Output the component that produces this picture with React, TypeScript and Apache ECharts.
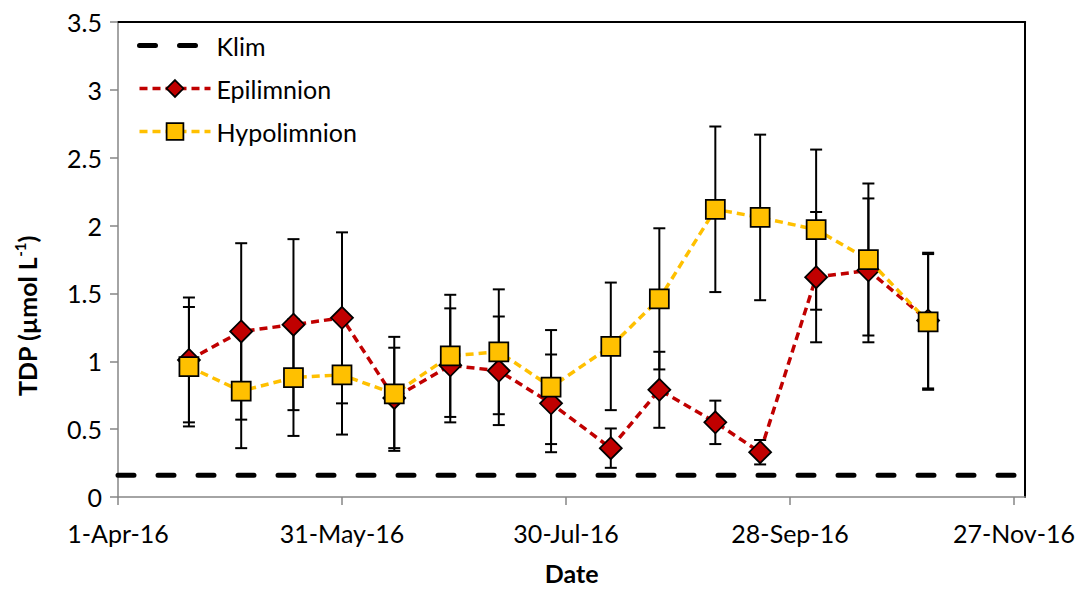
import React, { useEffect, useRef } from "react";
import * as echarts from "echarts";

// Sampling dates (2016) and TDP concentrations, µmol L-1
const sampleDates = [
  "2016-04-20", "2016-05-04", "2016-05-18", "2016-05-31", "2016-06-14",
  "2016-06-29", "2016-07-12", "2016-07-26", "2016-08-11", "2016-08-24",
  "2016-09-08", "2016-09-20", "2016-10-05", "2016-10-19", "2016-11-04",
];
const epilimnion = [1.01, 1.22, 1.27, 1.32, 0.73, 0.97, 0.93, 0.69, 0.36, 0.79, 0.55, 0.33, 1.62, 1.67, 1.30];
const epilimnionErr = [0.46, 0.65, 0.63, 0.63, 0.37, 0.42, 0.40, 0.36, 0.145, 0.28, 0.16, 0.09, 0.48, 0.53, 0.50];
const hypolimnion = [0.96, 0.78, 0.88, 0.90, 0.76, 1.04, 1.07, 0.81, 1.11, 1.46, 2.12, 2.06, 1.97, 1.75, 1.29];
const hypolimnionErr = [0.44, 0.42, 0.43, 0.44, 0.42, 0.45, 0.46, 0.42, 0.47, 0.52, 0.61, 0.61, 0.59, 0.56, 0.50];
const klim = 0.16;

// Date axis: days counted from 1-Apr-16, ticks every 60 days
const axisStart = "2016-04-01";
const axisEnd = "2016-11-30";
const tickDays = [0, 60, 120, 180, 240];
const yTicks = { min: 0, max: 3.5, interval: 0.5 };

const MONTHS = ["Jan", "Feb", "Mar", "Apr", "May", "Jun", "Jul", "Aug", "Sep", "Oct", "Nov", "Dec"];
const DAY_MS = 86400000;
const toUtc = (s: string) => {
  const [y, m, d] = s.split("-").map(Number);
  return Date.UTC(y, m - 1, d);
};
const startMs = toUtc(axisStart);
const dayOf = (s: string) => Math.round((toUtc(s) - startMs) / DAY_MS);
const fmtDay = (v: number) => {
  const d = new Date(startMs + v * DAY_MS);
  return `${d.getUTCDate()}-${MONTHS[d.getUTCMonth()]}-${String(d.getUTCFullYear()).slice(2)}`;
};

const FONT = "Lato, 'Open Sans', sans-serif";
const RED = "#C00000";
const GOLD = "#FFC000";
const AXIS_GRAY = "#868686";

export default function App() {
  const ref = useRef<HTMLDivElement>(null);

  useEffect(() => {
    if (!ref.current) return;
    const chart = echarts.init(ref.current, undefined, { renderer: "svg" });
    const maxDay = dayOf(axisEnd);
    const xs = sampleDates.map(dayOf);

    const epiData = xs.map((x, i) => [x, epilimnion[i]]);
    const hypoData = xs.map((x, i) => [x, hypolimnion[i]]);
    const epiBars = xs.map((x, i) => [x, epilimnion[i] - epilimnionErr[i], epilimnion[i] + epilimnionErr[i]]);
    const hypoBars = xs.map((x, i) => [x, hypolimnion[i] - hypolimnionErr[i], hypolimnion[i] + hypolimnionErr[i]]);

    const errorBarItem = (params: any, api: any) => {
      const x = api.value(0);
      const lo = api.coord([x, api.value(1)]);
      const hi = api.coord([x, api.value(2)]);
      const hw = 6;
      const style = { stroke: "#000", lineWidth: 2 };
      return {
        type: "group",
        children: [
          { type: "line", shape: { x1: lo[0], y1: lo[1], x2: hi[0], y2: hi[1] }, style },
          { type: "line", shape: { x1: lo[0] - hw, y1: lo[1], x2: lo[0] + hw, y2: lo[1] }, style },
          { type: "line", shape: { x1: hi[0] - hw, y1: hi[1], x2: hi[0] + hw, y2: hi[1] }, style },
        ],
      };
    };

    chart.setOption({
      animation: false,
      backgroundColor: "#fff",
      textStyle: { fontFamily: FONT },
      grid: { left: 118, right: 48, top: 22, bottom: 87 },
      graphic: [
        {
          type: "text",
          x: 27,
          y: 316,
          rotation: Math.PI / 2,
          style: {
            text: "{b|TDP (µmol L}{s|-1}{b|)}",
            align: "center",
            verticalAlign: "middle",
            rich: {
              b: { fontSize: 25, fontWeight: "bold", fill: "#000", fontFamily: FONT, lineHeight: 30 },
              s: { fontSize: 15, fontWeight: "bold", fill: "#000", fontFamily: FONT, verticalAlign: "top", lineHeight: 30, padding: [0, 0, 10, 0] },
            },
          },
        },
      ],
      legend: {
        data: [
          { name: "Klim", itemStyle: { color: "transparent", borderColor: "transparent", borderWidth: 0, opacity: 0 } },
          { name: "Epilimnion" },
          { name: "Hypolimnion" },
        ],
        orient: "vertical",
        left: 137,
        top: 33,
        padding: 0,
        itemWidth: 71,
        itemHeight: 21,
        itemGap: 18,
        lineStyle: { width: "inherit" },
        itemStyle: { borderWidth: "inherit" },
        textStyle: { fontSize: 25, fontFamily: FONT, color: "#000", padding: [0, 0, 0, 1] },
      },
      xAxis: [
        {
          type: "value",
          min: 0,
          max: maxDay,
          interval: 60,
          name: "Date",
          nameLocation: "middle",
          nameGap: 63,
          nameTextStyle: { fontSize: 25, fontWeight: "bold", color: "#000", fontFamily: FONT },
          axisLine: { show: true, onZero: false, lineStyle: { color: AXIS_GRAY, width: 1.5 } },
          axisTick: { show: true, length: 8, lineStyle: { color: AXIS_GRAY, width: 1.5 }, customValues: tickDays },
          axisLabel: {
            fontSize: 25,
            color: "#000",
            margin: 23,
            customValues: tickDays,
            formatter: (v: number) => fmtDay(v),
          },
          splitLine: { show: false },
        },
        {
          type: "value",
          position: "top",
          min: 0,
          max: maxDay,
          interval: 60,
          axisLine: { show: true, onZero: false, lineStyle: { color: "#000", width: 2 } },
          axisTick: { show: false },
          axisLabel: { show: false },
          splitLine: { show: false },
        },
      ],
      yAxis: [
        {
          type: "value",
          min: yTicks.min,
          max: yTicks.max,
          interval: yTicks.interval,
          axisLine: { show: true, onZero: false, lineStyle: { color: AXIS_GRAY, width: 1.5 } },
          axisTick: { show: true, length: 8, lineStyle: { color: AXIS_GRAY, width: 1.5 } },
          axisLabel: { fontSize: 25, color: "#000", margin: 16 },
          splitLine: { show: false },
        },
        {
          type: "value",
          position: "right",
          min: yTicks.min,
          max: yTicks.max,
          interval: yTicks.interval,
          axisLine: { show: true, onZero: false, lineStyle: { color: "#000", width: 2 } },
          axisTick: { show: false },
          axisLabel: { show: false },
          splitLine: { show: false },
        },
      ],
      series: [
        {
          name: "Klim",
          type: "line",
          z: 2,
          data: [[0, klim], [maxDay, klim]],
          symbol: "none",
          lineStyle: { color: "#000", width: 5, type: [16, 24], cap: "round" },
          itemStyle: { color: "#000" },
        },
        {
          name: "Epilimnion error",
          type: "custom",
          z: 3,
          renderItem: errorBarItem,
          encode: { x: 0, y: [1, 2] },
          data: epiBars,
        },
        {
          name: "Hypolimnion error",
          type: "custom",
          z: 3,
          renderItem: errorBarItem,
          encode: { x: 0, y: [1, 2] },
          data: hypoBars,
        },
        {
          name: "Epilimnion",
          type: "line",
          z: 4,
          data: epiData,
          symbol: "diamond",
          symbolSize: 22,
          lineStyle: { color: RED, width: 3.5, type: [8, 5] },
          itemStyle: { color: RED, borderColor: "#000", borderWidth: 1.75 },
        },
        {
          name: "Hypolimnion",
          type: "line",
          z: 5,
          data: hypoData,
          symbol: "rect",
          symbolSize: 19,
          lineStyle: { color: GOLD, width: 3.5, type: [8, 5] },
          itemStyle: { color: GOLD, borderColor: "#000", borderWidth: 1.75 },
        },
      ],
    });

    return () => chart.dispose();
  }, []);

  return (
    <div
      ref={ref}
      style={{ position: "fixed", left: 0, top: 0, width: 1078, height: 590, background: "#fff" }}
    />
  );
}
